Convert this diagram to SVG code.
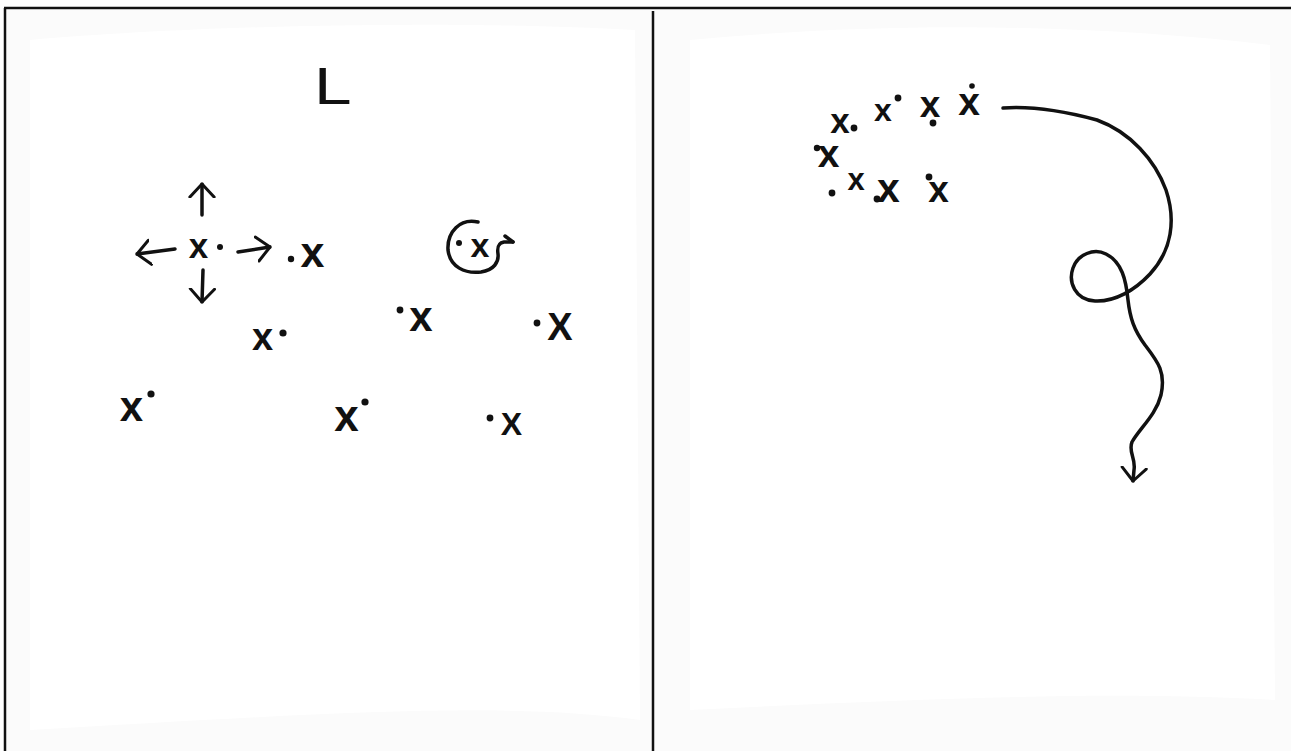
<svg xmlns="http://www.w3.org/2000/svg" width="1291" height="751" viewBox="0 0 1291 751">
<style>
.mk{font-family:"Liberation Sans",Arial,sans-serif;font-weight:bold;fill:#111;text-anchor:middle}
.dot{fill:#111}
.ln{fill:none;stroke:#111;stroke-width:3.5;stroke-linecap:round;stroke-linejoin:round}
.frame{stroke:#111;stroke-width:2.5;fill:none}
</style>
<defs>
<marker id="head" viewBox="0 0 16 30" refX="15" refY="15" markerWidth="15" markerHeight="28" markerUnits="userSpaceOnUse" orient="auto">
<path d="M1,2 L15,15 L1,28" fill="none" stroke="#111" stroke-width="3.2" stroke-linecap="round" stroke-linejoin="round"/>
</marker>
</defs>
<rect width="1291" height="751" fill="#ffffff"/>
<g id="paper">
<rect x="6" y="10" width="646" height="741" fill="#fbfbfb"/>
<rect x="654" y="10" width="637" height="741" fill="#fbfbfb"/>
<path d="M30,40 C200,25 450,20 635,30 L640,720 C500,700 300,715 30,730 Z" fill="#ffffff"/>
<path d="M690,40 C900,20 1100,25 1270,45 L1275,700 C1100,690 900,700 690,710 Z" fill="#ffffff"/>
</g>
<g id="frame">
<line x1="4" y1="8" x2="1291" y2="8" class="frame" stroke-width="3"/>
<line x1="5" y1="8" x2="5" y2="751" class="frame"/>
<line x1="653" y1="11" x2="653" y2="751" class="frame"/>
</g>
<g id="label-L">
<text x="314" y="104" font-family="Liberation Sans, Arial, sans-serif" font-size="52" fill="#111" transform="translate(314 0) scale(1.3 1) translate(-314 0)">L</text>
</g>
<g id="left-players">
<g id="p1"><text class="mk" x="198.5" y="258" font-size="35">x</text><circle class="dot" cx="220" cy="247" r="3"/></g>
<g id="p2"><circle class="dot" cx="291" cy="259" r="3.2"/><text class="mk" x="312.5" y="267" font-size="43">x</text></g>
<g id="p3"><circle class="dot" cx="459" cy="243" r="3"/><text class="mk" x="480" y="257" font-size="34">x</text></g>
<g id="p4"><circle class="dot" cx="400" cy="310" r="3.4"/><text class="mk" x="421" y="331" font-size="42">x</text></g>
<g id="p5"><circle class="dot" cx="537" cy="323" r="3.4"/><text class="mk" x="560" y="340" font-size="38">X</text></g>
<g id="p6"><circle class="dot" cx="490" cy="418" r="3.4"/><text class="mk" x="511.5" y="435" font-size="32">X</text></g>
<g id="p7"><text class="mk" x="262.5" y="350" font-size="38">x</text><circle class="dot" cx="283" cy="333" r="3.6"/></g>
<g id="p8"><text class="mk" x="131.5" y="421" font-size="42">x</text><circle class="dot" cx="151" cy="394" r="3.6"/></g>
<g id="p9"><text class="mk" x="346.5" y="431" font-size="44">x</text><circle class="dot" cx="365" cy="402" r="3.6"/></g>
</g>
<g id="right-players">
<g id="r1"><text class="mk" x="840" y="133" font-size="35">x</text><circle class="dot" cx="854" cy="128" r="3.4"/></g>
<g id="r2"><text class="mk" x="883" y="121" font-size="32">x</text><circle class="dot" cx="898" cy="98" r="3.4"/></g>
<g id="r3"><text class="mk" x="930" y="117" font-size="37">x</text><circle class="dot" cx="933" cy="123" r="3.4"/></g>
<g id="r4"><text class="mk" x="969" y="115" font-size="39">x</text><circle class="dot" cx="972" cy="86" r="2.8"/></g>
<g id="r5"><circle class="dot" cx="817" cy="148" r="3.2"/><text class="mk" x="828.5" y="167" font-size="39">x</text></g>
<g id="r6"><circle class="dot" cx="832" cy="193" r="3.4"/><text class="mk" x="856" y="190" font-size="31">x</text></g>
<g id="r7"><circle class="dot" cx="877" cy="199" r="3.4"/><text class="mk" x="888.5" y="202" font-size="41">x</text></g>
<g id="r8"><circle class="dot" cx="929" cy="177" r="3.4"/><text class="mk" x="938.5" y="202" font-size="37">x</text></g>
</g>
<g id="connectors">
<path class="ln" d="M202,215 L202,184" marker-end="url(#head)"/>
<path class="ln" d="M175,249 L137,254" marker-end="url(#head)"/>
<path class="ln" d="M238,252 L270,247" marker-end="url(#head)"/>
<path class="ln" d="M203,270 L202,302" marker-end="url(#head)"/>
<path class="ln" d="M478,222 C460,218 447,232 448,250 C450,267 465,274 481,272 C494,270 499,262 498,254 C497,247 498,243 504,242 L513,242"/>
<path class="ln" d="M505,236 L513,242"/>
<path class="ln" stroke-width="3" d="M1003,108 C1030,106 1060,110 1097,120 C1130,132 1155,160 1166,190 C1176,220 1172,250 1150,274 C1135,290 1115,302 1095,301 C1075,300 1068,282 1073,268 C1078,254 1094,248 1106,254 C1122,262 1126,280 1128,300 C1130,318 1134,330 1145,345 C1158,362 1166,372 1161,395 C1156,415 1140,428 1132,442 C1128,452 1136,458 1134,470 L1133,481" marker-end="url(#head)"/>
</g>
</svg>
